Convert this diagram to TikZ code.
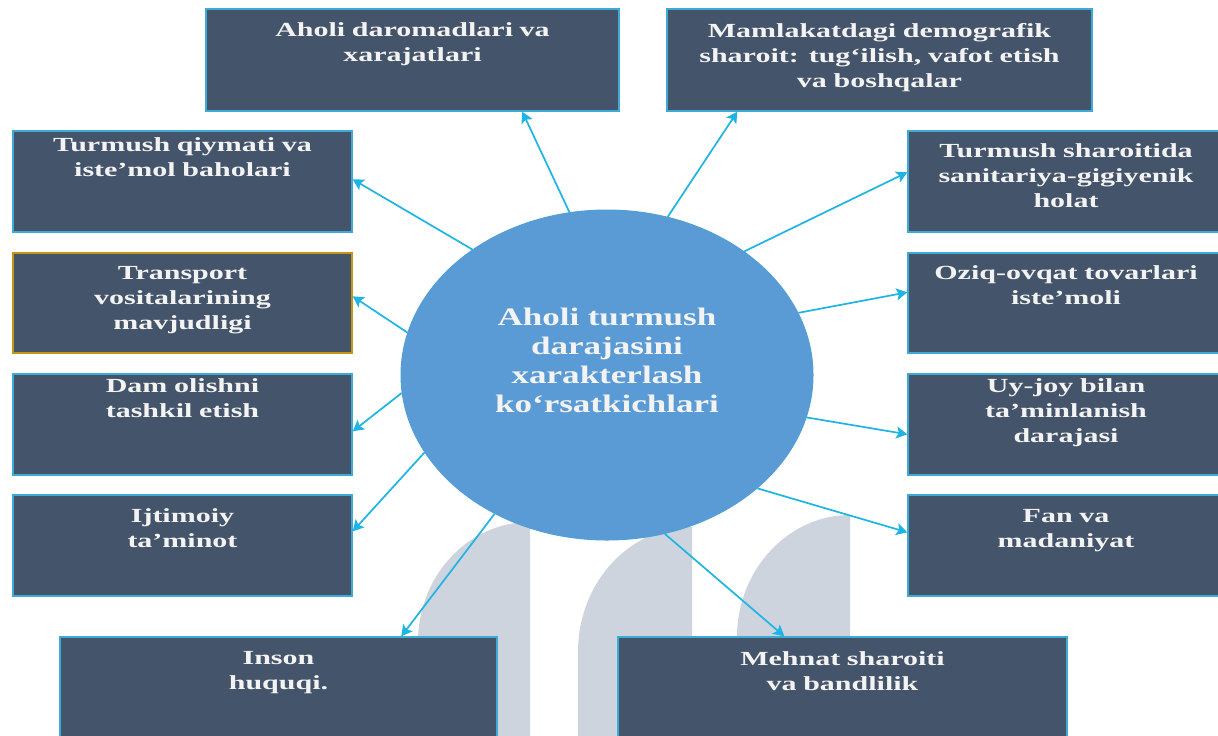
\documentclass[tikz,border=0pt]{standalone}
\usepackage{fontspec}
\usetikzlibrary{arrows.meta,shapes.geometric,fit,calc}
\newfontfamily\boxfnt[FakeStretch=1.5]{Liberation Serif}
\newfontfamily\ellfnt[FakeStretch=1.39]{Liberation Serif}
\definecolor{boxfill}{RGB}{68,84,106}
\definecolor{boxline}{RGB}{62,170,214}
\definecolor{goldline}{RGB}{196,150,20}
\definecolor{arrowc}{RGB}{30,180,228}
\definecolor{ellfill}{RGB}{91,155,213}
\definecolor{ellline}{RGB}{80,160,215}
\definecolor{wmark}{RGB}{206,212,222}
\definecolor{txt}{RGB}{243,243,243}
\begin{document}
\begin{tikzpicture}[x=0.5pt,y=-0.5pt,
  box/.style={draw=boxline, line width=0.7pt, fill=boxfill, inner sep=0pt},
  btext/.style={anchor=base, text width=210pt, align=center, text=txt, inner sep=0pt,
    font=\boxfnt\bfseries\fontsize{10}{12.5}\selectfont},
  etext/.style={anchor=base, text width=220pt, align=center, text=txt, inner sep=0pt,
    font=\ellfnt\bfseries\fontsize{12.6}{14.5}\selectfont},
  conn/.style={draw=arrowc, line width=0.85pt, -{Stealth[length=5.5pt,width=6pt,inset=1.2pt]}},
  wm/.style={fill=wmark}]
\useasboundingbox (0,0) rectangle (1218,735);
\clip (0,0) rectangle (1218,735);
\fill[white] (0,0) rectangle (1218,735);
% watermark arches
\fill[wm] (418,745) -- (418,642) .. controls (418,576) and (468,522) .. (530,522) -- (530,745) -- cycle;
\fill[wm] (578,745) -- (578,652) .. controls (578,583) and (629,527) .. (692,527) -- (692,745) -- cycle;
\fill[wm] (737,745) -- (737,637) .. controls (737,570) and (788,515) .. (850,515) -- (850,745) -- cycle;
% centre
\node[ellipse, fill=ellfill, draw=ellline, line width=0.5pt, minimum width=206pt, minimum height=165pt, inner sep=0pt] (ell) at (607,375) {};
\node[etext] (ellt) at (607,325) {Aholi turmush\\darajasini\\xarakterlash\\ko‘rsatkichlari};
% boxes
\node[box, fit={(206,9) (619,111)}] (b1) {};
\node[btext] (t1) at ($(b1.north)+(0,28)$) {Aholi daromadlari va\\xarajatlari};
\node[box, fit={(667,9) (1092,111)}] (b2) {};
\node[btext] (t2) at ($(b2.north)+(0,29)$) {Mamlakatdagi demografik\\sharoit: tug‘ilish, vafot etish\\va boshqalar};
\node[box, fit={(13,131) (352,232)}] (b3) {};
\node[btext] (t3) at ($(b3.north)+(0,21)$) {Turmush qiymati va\\iste’mol baholari};
\node[box, draw=goldline, fit={(13,253) (352,353)}] (b4) {};
\node[btext] (t4) at ($(b4.north)+(0,27)$) {Transport\\vositalarining\\mavjudligi};
\node[box, fit={(13,374) (352,475)}] (b5) {};
\node[btext] (t5) at ($(b5.north)+(0,19)$) {Dam olishni\\tashkil etish};
\node[box, fit={(13,495) (352,596)}] (b6) {};
\node[btext] (t6) at ($(b6.north)+(0,28)$) {Ijtimoiy\\ta’minot};
\node[box, fit={(908,131) (1224,232)}] (b7) {};
\node[btext] (t7) at ($(b7.north)+(0,27)$) {Turmush sharoitida\\sanitariya-gigiyenik\\holat};
\node[box, fit={(908,253) (1224,353)}] (b8) {};
\node[btext] (t8) at ($(b8.north)+(0,27)$) {Oziq-ovqat tovarlari\\iste’moli};
\node[box, fit={(908,374) (1224,475)}] (b9) {};
\node[btext] (t9) at ($(b9.north)+(0,19)$) {Uy-joy bilan\\ta’minlanish\\darajasi};
\node[box, fit={(908,495) (1224,596)}] (b10) {};
\node[btext] (t10) at ($(b10.north)+(0,28)$) {Fan va\\madaniyat};
\node[box, fit={(60,637) (497,745)}] (b11) {};
\node[btext] (t11) at ($(b11.north)+(0,28)$) {Inson\\huquqi.};
\node[box, fit={(618,637) (1067,745)}] (b12) {};
\node[btext] (t12) at ($(b12.north)+(0,29)$) {Mehnat sharoiti\\va bandlilik};
% connectors
\draw[conn] (ell.103.5) -- ($(b1.south west)+(317,0)$);
\draw[conn] (ell.69.8) -- ($(b2.south west)+(71,0)$);
\draw[conn] (ell.137.6) -- ($(b3.north east)+(0,49)$);
\draw[conn] (ell.168.3) -- ($(b4.north east)+(0,44)$);
\draw[conn] (ell.185) -- ($(b5.north east)+(0,58)$);
\draw[conn] (ell.203.9) -- ($(b6.north east)+(0,37)$);
\draw[conn] (ell.231.4) -- ($(b11.north west)+(342,0)$);
\draw[conn] (ell.290.6) -- ($(b12.north west)+(167,0)$);
\draw[conn] (ell.323) -- ($(b10.north west)+(0,38)$);
\draw[conn] (ell.348.7) -- ($(b9.north west)+(0,61)$);
\draw[conn] (ell.18.3) -- ($(b8.north west)+(0,40)$);
\draw[conn] (ell.42.8) -- ($(b7.north west)+(0,42)$);
\end{tikzpicture}
\end{document}
